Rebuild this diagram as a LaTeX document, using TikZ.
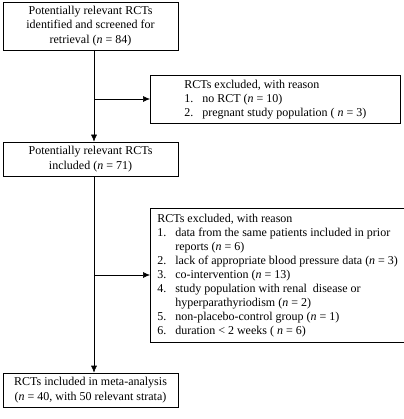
\documentclass[tikz,border=0pt]{standalone}
\usepackage{fontspec}
\setmainfont{Liberation Serif}
\usetikzlibrary{arrows.meta}
\tikzset{
  flowbox/.style={draw, line width=0.6pt, align=center, inner sep=0pt,
    font=\fontsize{12}{14.5}\selectfont},
  exclbox/.style={draw, line width=0.6pt, align=left, inner xsep=7pt, inner ysep=0pt,
    anchor=north west, font=\fontsize{12}{14}\selectfont},
  flowline/.style={line width=0.6pt},
  flowarrow/.style={line width=0.6pt, -{Latex[length=7pt,width=6pt]}}
}
\newcommand{\itm}[1]{\makebox[18pt][l]{#1}}
\newcommand{\ind}{\hspace*{18pt}}
\begin{document}
\begin{tikzpicture}[x=1pt,y=-1pt]
    \useasboundingbox (0,0) rectangle (403,419);
    \node[flowbox, minimum width=175pt, minimum height=48pt] (ident) at (90.5,26)
        {Potentially relevant RCTs\\identified and screened for\\retrieval (\textit{n} = 84)};
    \node[exclbox, minimum width=250pt, minimum height=48pt] (excla) at (150,75)
        {RCTs excluded, with reason\\
         \itm{1.}no RCT (\textit{n} = 10)\\
         \itm{2.}pregnant study population ( \textit{n} = 3)};
    \node[flowbox, minimum width=175pt, minimum height=34pt] (incl) at (90.5,159)
        {Potentially relevant RCTs\\included (\textit{n} = 71)};
    \node[exclbox, minimum width=250pt, minimum height=134pt] (exclb) at (150,208)
        {RCTs excluded, with reason\\
         \itm{1.}data from the same patients included in prior\\
         \ind reports (\textit{n} = 6)\\
         \itm{2.}lack of appropriate blood pressure data (\textit{n} = 3)\\
         \itm{3.}co-intervention (\textit{n} = 13)\\
         \itm{4.}study population with renal\ \ disease or\\
         \ind hyperparathyriodism (\textit{n} = 2)\\
         \itm{5.}non-placebo-control group (\textit{n} = 1)\\
         \itm{6.}duration < 2 weeks ( \textit{n} = 6)};
    \node[flowbox, minimum width=175pt, minimum height=34pt] (meta) at (90.5,390)
        {RCTs included in meta-analysis\\(\textit{n} = 40, with 50 relevant strata)};
    % trunk
    \coordinate (top) at (94,50);
    \coordinate (mida) at (94,99);
    \coordinate (midb) at (94,275);
    \draw[flowarrow] (top) -- (top |- incl.north);
    \draw[flowarrow] (mida) -- (excla.west |- mida);
    \draw[flowarrow] (top |- incl.south) -- (top |- meta.north);
    \draw[flowarrow] (midb) -- (exclb.west |- midb);
\end{tikzpicture}
\end{document}
